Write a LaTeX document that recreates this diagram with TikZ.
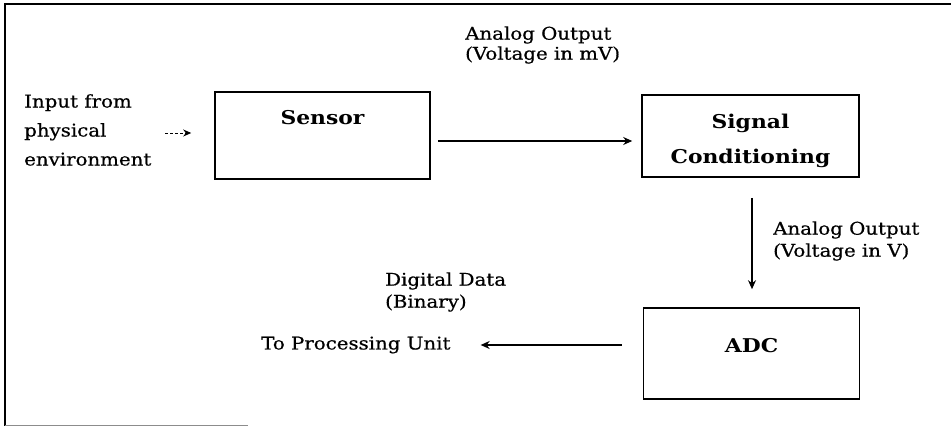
\documentclass[tikz,border=0pt]{standalone}
\usepackage{fontspec}
\setmainfont{DejaVu Serif}[FakeStretch=1.15]
\newfontfamily\lblfont{DejaVu Serif}[FakeStretch=1.13, FakeBold=0.6]
\usetikzlibrary{arrows.meta}
\tikzset{
  box/.style={draw=black, line width=1.6pt, rectangle, inner sep=0pt, font=\bfseries\fontsize{19}{35}\selectfont, align=center},
  lbl/.style={inner sep=0pt, align=left, font=\lblfont\fontsize{17.5}{20}\selectfont},
  conn/.style={line width=1.4pt, -{Stealth[length=9pt,width=8pt]}},
  frame/.style={line width=2pt}
}
\begin{document}
\begin{tikzpicture}[x=1pt,y=-1pt]
\useasboundingbox (0,0) rectangle (951,427);
% outer frame
\draw[frame] (951,4) -- (5,4) -- (5,426);
\draw[line width=1pt, black!45] (5,426) -- (248,426);
% boxes
\node[box, minimum width=215, minimum height=87, text depth=36pt] (sensor) at (322.5,135.5) {Sensor};
\node[box, minimum width=217, minimum height=82, text height=60pt] (sc) at (750.5,136) {Signal\\Conditioning};
\node[box, minimum width=216, minimum height=91, text depth=17pt] (adc) at (751.5,353.5) {ADC};
% texts
\node[lbl, anchor=west, font=\lblfont\fontsize{17.5}{29}\selectfont] (input) at (24,130) {Input from\\physical\\environment};
\node[lbl, anchor=west] (out) at (261,345) {To Processing Unit};
\node[lbl, anchor=west] (l1) at (465,45) {Analog Output\\(Voltage in mV)};
\node[lbl, anchor=west, font=\lblfont\fontsize{17.5}{22}\selectfont] (l2) at (773,241) {Analog Output\\(Voltage in V)};
\node[lbl, anchor=west, font=\lblfont\fontsize{17.5}{22}\selectfont] (l3) at (385,292) {Digital Data\\(Binary)};
% connectors
\coordinate (inA) at (165,133);
\draw[line width=0.9pt, densely dashed, -{Stealth[length=8pt,width=7pt]}] (inA) -- (inA -| sensor.west) [shorten >=23pt];
\draw[conn, shorten <=7pt, shorten >=9pt] ([yshift=-5.5pt]sensor.east) -- ([yshift=-5.5pt]sensor.east -| sc.west);
\draw[conn, shorten <=20pt, shorten >=18pt] ([xshift=1.5pt]sc.south) -- ([xshift=1.5pt]sc.south |- adc.north);
\draw[conn, shorten <=21pt, shorten >=30pt] ([yshift=8.5pt]adc.west) -- ([yshift=8.5pt]adc.west -| out.east);
\end{tikzpicture}
\end{document}
